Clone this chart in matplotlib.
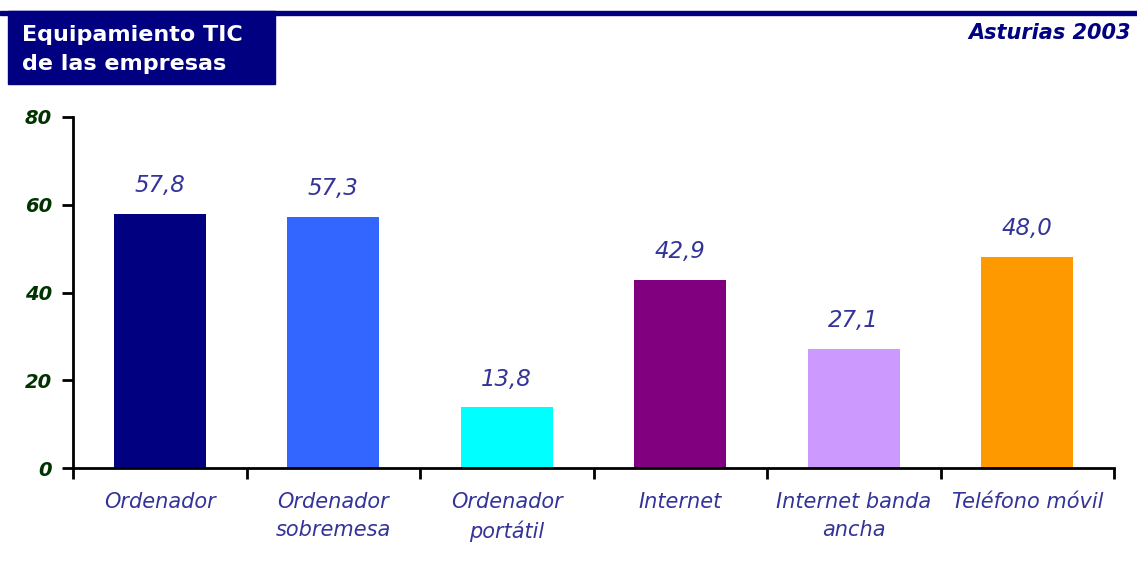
import matplotlib
matplotlib.use("Agg")
import matplotlib.pyplot as plt
from matplotlib.patches import Rectangle
import numpy as np

categories = ["Ordenador", "Ordenador\nsobremesa", "Ordenador\nportátil", "Internet",
              "Internet banda\nancha", "Teléfono móvil"]
values = [57.8, 57.3, 13.8, 42.9, 27.1, 48.0]
colors = ["#000080", "#3366FF", "#00FFFF", "#800080", "#CC99FF", "#FF9900"]
yticks = [0, 20, 40, 60, 80]

plt.rcParams['font.family'] = ['DejaVu Sans']
fig = plt.figure(figsize=(11.37, 5.65), dpi=100)
W, H = 1137, 565

# top band and title box
fig.patches.append(Rectangle((0, 1 - 15 / H), 1, 4 / H, transform=fig.transFigure,
                             color="#000080", zorder=0))
fig.patches.append(Rectangle((8 / W, 1 - 84 / H), (275 - 8) / W, (84 - 11) / H,
                             transform=fig.transFigure, color="#000080", zorder=0))
fig.text(22 / W, 1 - 35 / H, "Equipamiento TIC", color="white", fontsize=16,
         fontweight="bold", va="center", ha="left")
fig.text(22 / W, 1 - 64 / H, "de las empresas", color="white", fontsize=16,
         fontweight="bold", va="center", ha="left")
fig.text(1131 / W, 1 - 33 / H, "Asturias 2003", color="#000080", fontsize=15,
         fontweight="bold", fontstyle="italic", va="center", ha="right")

ax = fig.add_axes([73 / W, 1 - 468 / H, (1114 - 73) / W, (468 - 117) / H])
x = np.arange(len(categories)) + 0.5
ax.bar(x, values, width=0.53, color=colors, zorder=2)
for xi, v in zip(x, values):
    ax.text(xi, v + 5.0, f"{v:.1f}".replace(".", ","), ha="center", va="baseline",
            color="#333399", fontsize=16.5, fontstyle="italic")

ax.set_xlim(0, len(categories))
ax.set_ylim(0, 80)
ax.set_yticks(yticks)
ax.set_yticklabels([str(t) for t in yticks], color="#003300", fontsize=14,
                   fontstyle="italic", fontweight="bold")
ax.set_xticks(np.arange(len(categories) + 1))
ax.set_xticklabels([])
ax.set_xticks(x, minor=True)
ax.set_xticklabels(categories, minor=True, color="#333399", fontsize=15,
                   fontstyle="italic", linespacing=1.5, va="top")
ax.tick_params(axis="x", which="minor", length=0, pad=17)
ax.tick_params(axis="x", which="major", length=8, width=2, direction="out")
ax.tick_params(axis="y", length=8, width=2, direction="out", pad=7)
for s in ["top", "right"]:
    ax.spines[s].set_visible(False)
for s in ["left", "bottom"]:
    ax.spines[s].set_linewidth(2)
    ax.spines[s].set_color("black")

fig.savefig("out.png", dpi=100)
